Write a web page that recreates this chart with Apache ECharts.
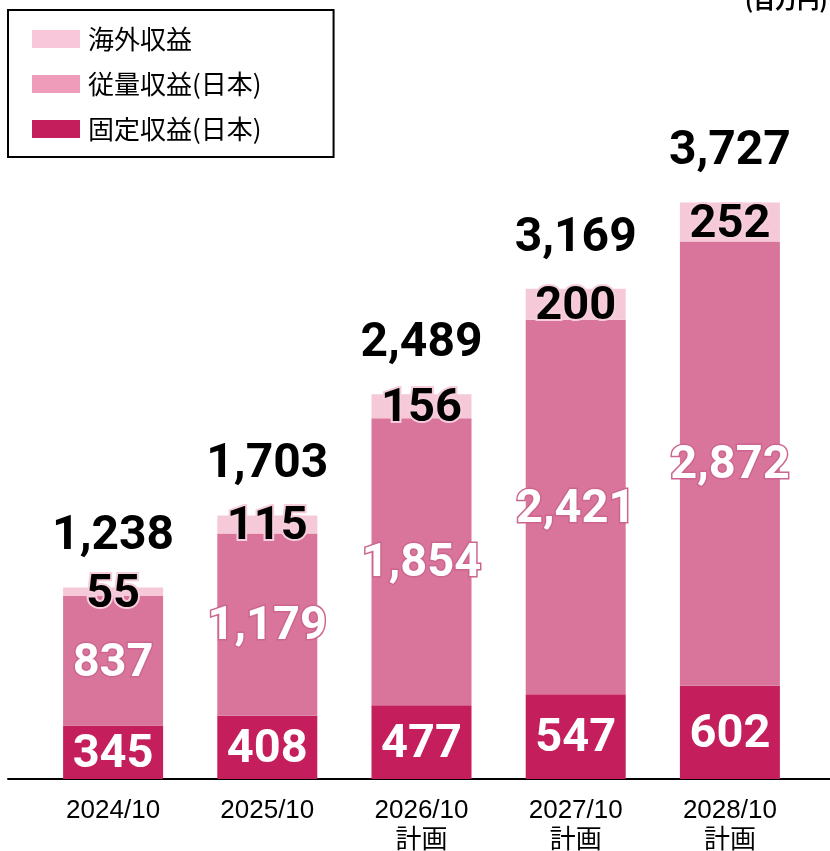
<!DOCTYPE html>
<html>
<head>
<meta charset="utf-8">
<script src="https://cdn.jsdelivr.net/npm/echarts@6/dist/echarts.min.js"></script>
<style>
  html, body { margin: 0; padding: 0; background: #fff; }
  #chart { width: 830px; height: 851px; }
</style>
</head>
<body>
<div id="chart"></div>
<script>
// 収益構成（百万円）
const categories = ['2024/10', '2025/10', '2026/10\n計画', '2027/10\n計画', '2028/10\n計画'];
const fixedJapan = [345, 408, 477, 547, 602];      // 固定収益（日本）
const variableJapan = [837, 1179, 1854, 2421, 2872]; // 従量収益（日本）
const overseas = [55, 115, 156, 200, 252];          // 海外収益
const totals = [1238, 1703, 2489, 3169, 3727];      // 合計
const seriesNames = ['海外収益', '従量収益(日本)', '固定収益(日本)'];
const unitLabel = '(百万円)';

const COLORS = {
  fixed: '#c41f5c',
  variable: '#d9749a',
  overseas: '#f5c9d8',
  legendVariable: '#ee9cb9',
  legendOverseas: '#f8c8da'
};
const NUM_FONT = 'Roboto, "Liberation Sans", sans-serif';
const JP_FONT = '"Liberation Sans", "Noto Sans CJK JP", sans-serif';
const fmt = v => Number(v).toLocaleString('en-US');

const chart = echarts.init(document.getElementById('chart'), null, { renderer: 'canvas' });

const numLabel = extra => Object.assign({
  show: true,
  position: 'inside',
  offset: [0, 3],
  fontFamily: NUM_FONT,
  fontWeight: 'bold',
  fontSize: 47,
  formatter: p => fmt(p.value)
}, extra);

chart.setOption({
  animation: false,
  backgroundColor: '#ffffff',
  grid: [
    { left: 36, right: 23, top: 160, bottom: 72, outerBoundsMode: 'none', containLabel: false },
    { left: 8, right: 0, top: 160, bottom: 72, outerBoundsMode: 'none', containLabel: false }
  ],
  legend: {
    orient: 'vertical',
    left: 8,
    top: 10,
    padding: [16, 72, 15, 24],
    itemWidth: 48,
    itemHeight: 18,
    itemGap: 19,
    borderColor: '#000',
    borderWidth: 2,
    borderRadius: 0,
    icon: 'rect',
    selectedMode: false,
    textStyle: {
      fontFamily: '"Noto Sans CJK JP", sans-serif',
      fontSize: 26,
      lineHeight: 26,
      color: '#000',
      padding: [0, 0, 0, 3]
    },
    data: [
      { name: seriesNames[0], itemStyle: { color: COLORS.legendOverseas } },
      { name: seriesNames[1], itemStyle: { color: COLORS.legendVariable } },
      { name: seriesNames[2], itemStyle: { color: COLORS.fixed } }
    ]
  },
  xAxis: [
    {
      type: 'category',
      gridIndex: 0,
      data: categories,
      axisLine: { show: false },
      axisTick: { show: false },
      axisLabel: {
        margin: 17,
        color: '#000',
        fontFamily: JP_FONT,
        fontSize: 26,
        lineHeight: 30
      }
    },
    {
      // 全幅の基準線
      type: 'value',
      gridIndex: 1,
      min: 0,
      max: 1,
      axisLine: { show: true, lineStyle: { color: '#000', width: 2 } },
      axisTick: { show: false },
      axisLabel: { show: false },
      splitLine: { show: false }
    }
  ],
  yAxis: [
    {
      type: 'value',
      gridIndex: 0,
      min: 0,
      max: 4000,
      show: false,
      splitLine: { show: false }
    },
    {
      type: 'value',
      gridIndex: 1,
      min: 0,
      max: 1,
      show: false,
      splitLine: { show: false }
    }
  ],
  series: [
    {
      name: seriesNames[2],
      type: 'bar',
      stack: 'revenue',
      barWidth: 100,
      data: fixedJapan,
      itemStyle: { color: COLORS.fixed },
      label: numLabel({ color: '#fff' })
    },
    {
      name: seriesNames[1],
      type: 'bar',
      stack: 'revenue',
      barWidth: 100,
      data: variableJapan,
      itemStyle: { color: COLORS.variable },
      label: numLabel({ color: '#fff', textBorderColor: '#cc6590', textBorderWidth: 3 })
    },
    {
      name: seriesNames[0],
      type: 'bar',
      stack: 'revenue',
      barWidth: 100,
      data: overseas,
      itemStyle: { color: COLORS.overseas },
      label: numLabel({ color: '#000', textBorderColor: '#f6cddc', textBorderWidth: 4 })
    },
    {
      name: '合計',
      type: 'scatter',
      data: totals,
      symbolSize: 0,
      silent: true,
      itemStyle: { opacity: 1 },
      label: {
        show: true,
        position: 'top',
        distance: 26,
        color: '#000',
        opacity: 1,
        fontFamily: NUM_FONT,
        fontWeight: 'bold',
        fontSize: 48,
        formatter: p => fmt(p.value)
      },
      z: 5
    }
  ],
  graphic: [
    {
      type: 'text',
      left: 745,
      top: -11,
      style: {
        text: unitLabel,
        font: 'bold 22px "Noto Sans CJK JP", sans-serif',
        fill: '#000'
      }
    }
  ]
});
</script>
</body>
</html>
